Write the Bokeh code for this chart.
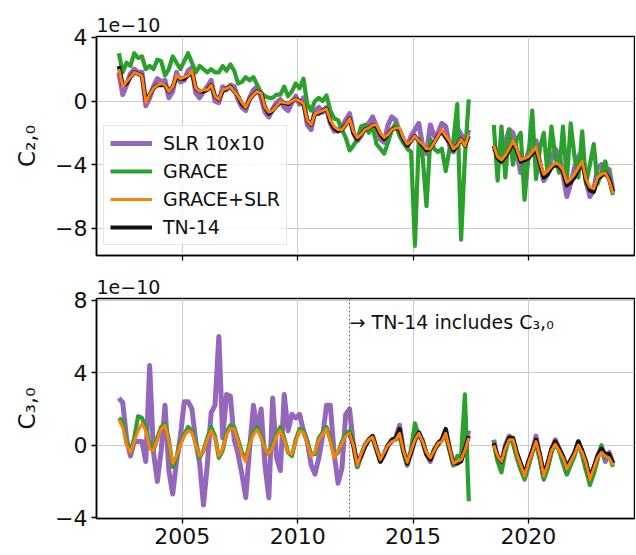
import numpy as np
from bokeh.plotting import figure
from bokeh.layouts import column
from bokeh.models import FixedTicker, Range1d, Legend, LegendItem, Label, Span
from bokeh.embed import file_html
from bokeh.resources import INLINE

nan = float("nan")

# sampling times (decimal years): GRACE span and GRACE-FO span
t_grace = (2002.25 + np.arange(92) / 6).tolist()
t_gfo = (2018.5 + np.arange(32) / 6).tolist()

# ---------------- C20 (units of 1e-10) ----------------
c20_slr_a = [1.8, 0.4, 1.0, 1.7, 2.0, 1.8,
             1.8, -0.3, 0.2, 0.9, 1.4, 1.2,
             1.3, 0.2, 0.6, 1.8, 1.2, 1.3,
             1.9, 2.1, 0.5, 0.2, 0.6, 0.9,
             1.3, 0.0, -0.1, 0.9, 0.7, 1.0,
             0.9, 0.1, -0.4, -0.6, 0.2, 0.7,
             0.9, 0.2, -0.7, -1.0, -0.5, -0.1,
             0.1, -0.4, -0.6, -0.1, 0.3, -0.2,
             0.2, -1.5, -1.8, -0.6, -0.4, -0.7,
             -0.4, -1.4, -1.9, -1.8, -1.6, -1.2,
             -0.8, -2.0, -2.5, -2.2, -1.6, -1.4,
             -1.0, -1.6, -2.4, -2.6, -1.5, -1.0,
             -1.2, -2.0, -2.6, -2.9, -2.2, -1.8,
             -1.4, -2.8, -3.3, -1.5, -2.2, -2.0,
             -1.4, -1.6, -2.8, -3.2, -1.7, -2.1,
             -2.6, -1.8]
c20_slr_b = [-3.0, -3.2, -3.8, -2.6, -1.8, -2.0, -3.2, -4.5, -4.0, -3.2, -2.6, -2.5,
             -4.0, -5.0, -4.6, -3.6, -3.0, -3.4, -4.6, -6.0, -5.2, -4.2, -3.5, -3.2,
             -5.0, -6.0, -5.6, -4.2, -4.0, -4.6, -4.3, -5.7]

c20_grace_a = [3.0, 1.8, 2.4, 2.2, 3.0, 2.7,
               2.8, 2.0, 2.2, 2.0, 2.6, 2.5,
               1.6, 2.0, 2.8, 2.4, 2.0, 2.5,
               3.0, 2.4, 1.8, 2.2, 2.0, 1.8,
               2.0, 1.8, 1.8, 2.2, 1.9, 2.3,
               1.9, 1.1, 1.2, 1.5, 1.3, 1.5,
               1.0, 0.5, 0.3, 0.2, 0.2, 0.4,
               0.4, 0.9, 0.3, 0.6, 1.1, 0.8,
               1.4, -0.2, -0.6, 0.0, 0.2, 0.0,
               0.35, -0.6, -1.1, -1.2, -1.8, -2.3,
               -3.1, -2.8, -2.4, -1.6, -1.5, -2.0,
               -1.6, -2.7, -3.0, -3.3, -2.6, -1.8,
               -1.4, -2.2, -2.6, -3.0, -3.2, -9.1,
               -2.4, -3.5, -6.6, -2.4, -3.0, -3.2,
               -3.0, -4.4, -3.0, -2.5, -0.2, -8.7,
               -3.5, 0.1]
c20_grace_b = [-1.5, -5.0, -1.6, -4.8, -1.8, -4.0, -2.4, -2.0, -6.2, -3.5, -0.6, -4.9,
               -3.0, -2.0, -4.6, -1.6, -3.5, -4.5, -1.6, -5.0, -1.4, -3.5, -4.8, -1.9,
               -5.2, -4.0, -2.7, -5.2, -4.5, -3.8, -4.8, -5.9]

c20_gs_a = [2.0, 0.9, 1.2, 1.5, 1.8, 1.7,
            1.6, -0.1, 0.4, 0.8, 1.0, 1.1,
            1.0, 0.6, 0.9, 1.6, 1.4, 1.5,
            1.6, 1.9, 0.8, 0.6, 0.7, 0.7,
            1.0, 0.3, 0.1, 0.7, 0.8, 0.9,
            0.6, 0.3, -0.1, -0.4, 0.1, 0.4,
            0.6, 0.5, -0.4, -0.7, -0.6, -0.3,
            -0.05, -0.1, -0.15, 0.0, 0.1, 0.0,
            -0.15, -1.2, -1.5, -0.8, -0.7, -0.6,
            -0.5, -1.2, -1.6, -1.8, -1.8, -1.5,
            -1.1, -1.9, -2.3, -2.1, -1.8, -1.7,
            -1.5, -1.5, -2.0, -2.3, -2.1, -1.8,
            -1.7, -1.7, -2.3, -2.7, -2.5, -2.2,
            -2.5, -2.7, -3.0, -3.0, -2.6, -2.2,
            -1.8, -2.2, -2.5, -3.0, -2.8, -2.4,
            -2.8, -2.1]
c20_gs_b = [-2.8, -3.5, -3.7, -3.4, -3.0, -2.5, -3.0, -3.7, -3.6, -3.5, -3.2, -2.9,
            -3.8, -4.6, -4.4, -4.1, -3.9, -4.0, -4.3, -5.1, -4.9, -4.6, -4.2, -3.8,
            -4.9, -5.4, -5.5, -4.8, -4.6, -4.5, -5.0, -5.8]

c20_tn14_a = [2.2, 1.0, 1.1, 1.5, 1.8, 1.7,
              1.6, 0.0, 0.4, 0.8, 1.0, 1.0,
              1.0, 0.6, 0.9, 1.5, 1.4, 1.4,
              1.6, 1.8, 0.8, 0.6, 0.6, 0.7,
              1.0, 0.3, 0.1, 0.6, 0.8, 0.9,
              0.6, 0.3, -0.2, -0.4, 0.1, 0.4,
              0.6, 0.5, -0.4, -0.8, -0.6, -0.3,
              -0.1, -0.1, -0.2, 0.0, 0.1, 0.0,
              -0.2, -1.2, -1.5, -0.8, -0.8, -0.6,
              -0.5, -1.3, -1.7, -1.9, -1.8, -1.5,
              -1.1, -2.0, -2.4, -2.1, -1.8, -1.7,
              -1.5, -1.6, -2.1, -2.4, -2.1, -1.8,
              -1.7, -1.8, -2.4, -2.8, -2.5, -2.2,
              -2.5, -2.8, -3.1, -3.0, -2.6, -2.2,
              -1.9, -2.3, -2.6, -3.1, -2.8, -2.4,
              -2.8, -2.2]
c20_tn14_b = [-2.8, -3.6, -3.8, -3.5, -3.1, -2.6, -3.1, -3.8, -3.7, -3.6, -3.3, -3.0,
              -3.9, -4.8, -4.6, -4.2, -4.0, -4.1, -4.4, -5.3, -5.1, -4.8, -4.3, -3.9,
              -5.0, -5.6, -5.7, -4.9, -4.7, -4.5, -4.9, -5.7]

# ---------------- C30 (units of 1e-10) ----------------
c30_slr_a = [2.6, 2.35, 0.4, -0.6, 0.2, 0.2,
             0.2, -0.9, 4.4, -0.4, -2.0, -0.3,
             2.2, -1.4, -2.7, -0.9, 0.5, 2.4,
             2.4, 2.0, 0.2, -1.0, -3.3, -1.1,
             1.8, 2.2, 6.0, 0.4, 2.8, 2.7,
             0.3, -0.5, -1.6, -2.9, -0.2, 2.2,
             0.8, 2.0, -1.1, -2.9, 2.6, -0.7,
             -1.4, 2.8, 0.8, 1.7, 1.5, 1.7,
             0.8, 0.2, -1.1, -1.6, -0.7, 0.5,
             2.2, 2.2, -0.5, -2.1, -1.3, 1.7,
             2.0, 0.0, -1.2, -0.6, 0.0, 0.3,
             0.5, -0.2, -0.9, -0.5, 0.0, 0.2,
             0.4, 1.1, -0.3, -1.1, -0.4, 0.3,
             0.7, 0.2, -0.5, -0.9, -0.3, 0.1,
             0.3, 0.8, -0.2, -1.1, -1.0, -0.8,
             0.0, 0.8]
c30_slr_b = [0.3, -0.8, -1.1, 0.0, 0.5, 0.3, -0.6, -1.3, -1.8, -1.1, -0.4, 0.5,
             -0.7, -1.8, -1.2, -0.3, 0.3, -0.2, -0.9, -1.6, -1.0, -0.5, 0.2, -0.5,
             -1.3, -1.8, -1.4, -0.6, -0.1, -0.9, -0.4, -1.0]

c30_grace_a = [1.5, 1.3, 0.1, -0.4, 0.4, 1.6,
               1.5, 1.0, 0.0, -0.3, 0.4, 1.0,
               1.2, 0.3, -1.2, -0.7, 0.1, 0.6,
               1.0, 0.8, 0.1, -0.7, -0.3, 0.4,
               1.0, 0.5, -0.7, -0.3, 0.7, 1.1,
               1.0, 0.3, -0.4, -0.8, 0.1, 0.7,
               1.0, 0.5, -0.2, -0.5, 0.0, 0.6,
               1.0, 0.4, -0.4, -0.6, 0.3, 0.9,
               0.8, 0.2, -0.5, -0.5, 0.4, 0.7,
               1.0, 0.3, -0.6, -0.4, 0.2, 0.6,
               0.8, 0.1, -1.2, -0.6, 0.0, 0.3,
               0.4, -0.3, -0.9, -0.5, 0.0, 0.3,
               0.3, 0.5, -0.4, -1.1, -0.2, 1.2,
               0.5, 0.3, -0.5, -0.8, -0.2, 0.0,
               0.3, 0.5, -0.3, -1.1, -0.6, -0.6,
               2.8, -3.1]
c30_grace_b = [0.2, -0.9, -1.5, -0.4, 0.4, 0.1, -0.7, -1.3, -1.9, -1.2, -0.3, 0.0,
               -0.8, -1.9, -1.3, -0.4, 0.1, -0.3, -1.0, -1.6, -1.1, -0.6, 0.2, -0.5,
               -1.4, -2.2, -1.6, -0.8, 0.0, -0.7, -0.5, -1.2]

c30_gs_a = [1.4, 1.0, 0.0, -0.4, 0.2, 0.8,
            1.2, 0.8, -0.2, -0.3, 0.3, 0.9,
            1.1, 0.2, -1.0, -0.6, 0.0, 0.5,
            0.8, 0.7, 0.0, -0.6, -0.3, 0.3,
            0.8, 0.4, -0.6, -0.2, 0.6, 0.9,
            0.9, 0.2, -0.5, -0.9, 0.0, 0.6,
            0.85, 0.4, -0.2, -0.5, -0.1, 0.5,
            0.8, 0.3, -0.4, -0.5, 0.2, 0.8,
            0.7, 0.1, -0.6, -0.4, 0.3, 0.6,
            0.9, 0.2, -0.7, -0.3, 0.1, 0.5,
            0.65, 0.0, -1.1, -0.5, 0.0, 0.3,
            0.45, -0.2, -0.8, -0.4, 0.0, 0.2,
            0.3, 0.65, -0.3, -0.95, -0.3, 0.3,
            0.65, 0.2, -0.4, -0.7, -0.3, 0.1,
            0.2, 0.65, -0.2, -1.0, -0.9, -0.8,
            -0.3, 0.4]
c30_gs_b = [0.0, -0.6, -0.9, -0.2, 0.3, 0.3, -0.5, -1.1, -1.7, -1.0, -0.4, 0.2,
            -0.6, -1.7, -1.1, -0.3, 0.05, -0.3, -0.7, -1.3, -0.9, -0.5, 0.0, -0.4,
            -1.0, -1.9, -1.3, -0.7, -0.4, -0.6, -0.7, -1.1]

# TN-14 provides C30 only from 2012.25 on
c30_tn14_a = [nan] * 60 + [0.6, 0.0, -1.0, -0.6, -0.1, 0.3,
                           0.5, -0.2, -0.9, -0.5, 0.0, 0.3,
                           0.4, 0.9, -0.3, -1.0, -0.4, 0.3,
                           0.7, 0.2, -0.5, -0.8, -0.3, 0.1,
                           0.3, 0.9, -0.2, -1.0, -1.0, -0.9,
                           -0.2, 0.5]
c30_tn14_b = [0.1, -0.6, -0.9, -0.1, 0.4, 0.4, -0.4, -1.0, -1.6, -0.9, -0.3, 0.3,
              -0.5, -1.6, -1.0, -0.2, 0.2, -0.2, -0.6, -1.2, -0.8, -0.4, 0.2, -0.3,
              -0.9, -1.8, -1.2, -0.6, -0.2, -0.5, -0.5, -1.0]

tn14_c30_start = 2012.25
x_ticks = [2005, 2010, 2015, 2020]
series_names = ["SLR 10x10", "GRACE", "GRACE+SLR", "TN-14"]
colors = {"SLR 10x10": "#9467bd", "GRACE": "#2ca02c", "GRACE+SLR": "#ff7f0e", "TN-14": "#111111"}
widths = {"SLR 10x10": 5.0, "GRACE": 4.2, "GRACE+SLR": 3.0, "TN-14": 4.2}


def join(a, b):
    return np.array(list(a) + [nan] + list(b), dtype=float)


t = join(t_grace, t_gfo)
FONT = "DejaVu Sans"


def make_panel(yr, yticks, ylabel, frame_h, top_border, bottom_border, show_xlabels):
    p = figure(frame_width=538, frame_height=frame_h,
               x_range=Range1d(2001.28, 2024.6), y_range=Range1d(*yr),
               output_backend="svg", toolbar_location=None,
               min_border_left=96, min_border_right=1,
               min_border_top=top_border, min_border_bottom=bottom_border)
    p.background_fill_color = "white"
    p.border_fill_color = "white"
    p.outline_line_color = "black"
    p.outline_line_width = 1.5
    p.title.text = "1e\u221210"
    p.title.align = "left"
    p.title.offset = 0
    p.title.standoff = 9
    p.title.text_font = FONT
    p.title.text_font_size = "19px"
    p.title.text_font_style = "normal"
    p.title.text_color = "#111111"

    p.xaxis.ticker = FixedTicker(ticks=x_ticks)
    p.yaxis.ticker = FixedTicker(ticks=yticks)
    p.yaxis.major_label_overrides = {v: ("\u2212%d" % -v if v < 0 else "%d" % v) for v in yticks}
    if show_xlabels:
        p.xaxis.major_label_overrides = {v: str(v) for v in x_ticks}
    else:
        p.xaxis.major_label_overrides = {v: "" for v in x_ticks}
    for ax in (p.xaxis, p.yaxis):
        ax.axis_line_color = "black"
        ax.axis_line_width = 1.5
        ax.major_tick_line_color = "black"
        ax.major_tick_line_width = 1.3
        ax.major_tick_out = 5
        ax.major_tick_in = 0
        ax.minor_tick_out = 0
        ax.minor_tick_in = 0
        ax.major_label_text_font = FONT
        ax.major_label_text_font_size = "22px"
        ax.major_label_text_color = "#111111"
        ax.major_label_standoff = 4
    p.yaxis.axis_label = ylabel
    p.yaxis.axis_label_text_font = FONT
    p.yaxis.axis_label_text_font_size = "23px"
    p.yaxis.axis_label_text_font_style = "normal"
    p.yaxis.axis_label_text_color = "#111111"
    p.yaxis.axis_label_standoff = 12
    p.grid.grid_line_color = "#cccccc"
    p.grid.grid_line_width = 1
    return p


# ---------------- top panel ----------------
p1 = make_panel((-9.7, 4.05), [-8, -4, 0, 4], "C\u2082,\u2080", 219, 36, 15, False)
c20 = {"SLR 10x10": join(c20_slr_a, c20_slr_b), "GRACE": join(c20_grace_a, c20_grace_b),
       "GRACE+SLR": join(c20_gs_a, c20_gs_b), "TN-14": join(c20_tn14_a, c20_tn14_b)}
rend = {}
for name in ["SLR 10x10", "GRACE", "TN-14", "GRACE+SLR"]:
    rend[name] = p1.line(t, c20[name], line_color=colors[name], line_width=widths[name],
                         line_join="round")
legend = Legend(items=[LegendItem(label=n, renderers=[rend[n]]) for n in series_names],
                location=(7, 10), margin=0, padding=6, spacing=6,
                glyph_width=42, glyph_height=20, label_standoff=11,
                label_text_font=FONT, label_text_font_size="19px", label_text_color="#111111",
                border_line_color="#cccccc", border_line_width=1.5,
                background_fill_color="white", background_fill_alpha=0.8)
p1.add_layout(legend)

# ---------------- bottom panel ----------------
p2 = make_panel((-4.05, 8.1), [-4, 0, 4, 8], "C\u2083,\u2080", 220, 28, 34, True)
c30 = {"SLR 10x10": join(c30_slr_a, c30_slr_b), "GRACE": join(c30_grace_a, c30_grace_b),
       "GRACE+SLR": join(c30_gs_a, c30_gs_b), "TN-14": join(c30_tn14_a, c30_tn14_b)}
for name in ["SLR 10x10", "GRACE", "TN-14", "GRACE+SLR"]:
    p2.line(t, c30[name], line_color=colors[name], line_width=widths[name], line_join="round")
p2.add_layout(Span(location=tn14_c30_start, dimension="height", line_color="#666666",
                   line_width=1, line_dash="2 2"))
p2.add_layout(Label(x=tn14_c30_start, y=6.8, x_offset=0, text="\u2192 TN-14 includes C\u2083,\u2080",
                    text_baseline="middle", text_font=FONT, text_font_size="19px",
                    text_color="#111111"))

layout = column(p1, p2, spacing=0)
open("out.html", "w").write(file_html(layout, INLINE))
